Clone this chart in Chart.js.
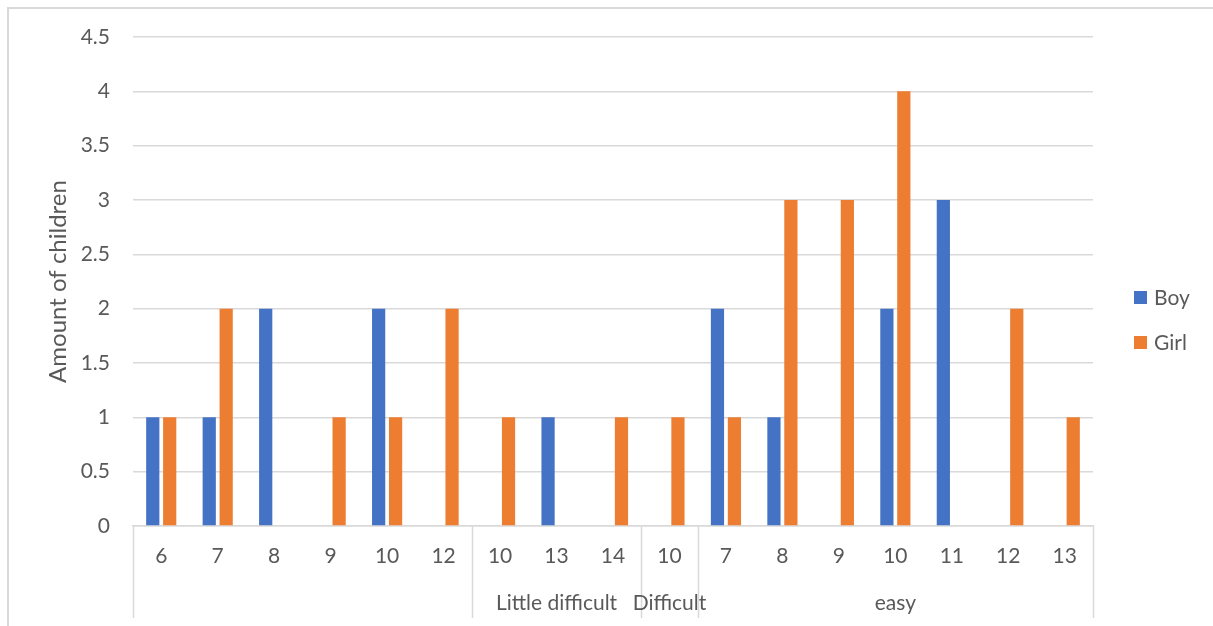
<!DOCTYPE html>
<html>
<head>
<meta charset="utf-8">
<script src="https://cdn.jsdelivr.net/npm/chart.js@4.4.1/dist/chart.umd.min.js"></script>
<style>
  html, body { margin: 0; padding: 0; background: #fff; }
  #wrap { position: relative; width: 1213px; height: 626px; overflow: hidden; }
  #frame { position: absolute; left: 7px; top: 7px; width: 1220px; height: 640px;
           border-top: 2px solid #d9d9d9; border-left: 2px solid #d9d9d9; box-sizing: border-box; }
  canvas { position: absolute; left: 0; top: 0; }
</style>
</head>
<body>
<div id="wrap">
  <div id="frame"></div>
  <canvas id="c" width="1213" height="626"></canvas>
</div>
<script>
// Ages within each difficulty group
const ageLabels = ['6', '7', '8', '9', '10', '12', '10', '13', '14', '10', '7', '8', '9', '10', '11', '12', '13'];
// Difficulty groups and how many ages each one spans
const groupNames = ['', 'Little difficult', 'Difficult', 'easy'];
const groupSizes = [6, 3, 1, 7];
// Number of children per age
const boyValues  = [1, 1, 2, 0, 2, 0, 0, 1, 0, 0, 2, 1, 0, 2, 3, 0, 0];
const girlValues = [1, 2, 0, 1, 1, 2, 1, 0, 1, 1, 1, 3, 3, 4, 0, 2, 1];
const yTicks = [0, 0.5, 1, 1.5, 2, 2.5, 3, 3.5, 4, 4.5];

const FONT = 'Lato, "Open Sans", sans-serif';
const TEXT = '#595959';
const GRID = '#d9d9d9';
const LABEL_SIZE = 21;

// Second row of category labels: group names with separator lines
const groupAxis = {
  id: 'groupAxis',
  afterDraw(chart) {
    const x = chart.scales.x;
    const ctx = chart.ctx;
    const half = (x.getPixelForValue(1) - x.getPixelForValue(0)) / 2;
    const top = x.top;
    const bottom = 618;
    ctx.save();
    ctx.strokeStyle = GRID;
    ctx.lineWidth = 1.5;
    let start = 0;
    const edges = [x.getPixelForValue(0) - half];
    groupSizes.forEach(n => {
      const end = start + n - 1;
      edges.push(x.getPixelForValue(end) + half);
      start += n;
    });
    edges.forEach(px => {
      ctx.beginPath();
      ctx.moveTo(Math.round(px) + 0.5, top);
      ctx.lineTo(Math.round(px) + 0.5, bottom);
      ctx.stroke();
    });
    ctx.fillStyle = TEXT;
    ctx.font = LABEL_SIZE + 'px ' + FONT;
    ctx.textAlign = 'center';
    ctx.textBaseline = 'middle';
    groupNames.forEach((name, i) => {
      if (!name) return;
      ctx.fillText(name, (edges[i] + edges[i + 1]) / 2, 603);
    });
    ctx.restore();
  }
};

// Legend at the right of the plot
const sideLegend = {
  id: 'sideLegend',
  afterDraw(chart) {
    const ctx = chart.ctx;
    ctx.save();
    ctx.font = LABEL_SIZE + 'px ' + FONT;
    ctx.textBaseline = 'middle';
    ctx.textAlign = 'left';
    chart.data.datasets.forEach((ds, i) => {
      const cy = 298 + i * 45;
      ctx.fillStyle = ds.backgroundColor;
      ctx.fillRect(1134, cy - 7, 13, 13);
      ctx.fillStyle = TEXT;
      ctx.fillText(ds.label, 1154, cy);
    });
    ctx.restore();
  }
};

new Chart(document.getElementById('c'), {
  type: 'bar',
  data: {
    labels: ageLabels,
    datasets: [
      { label: 'Boy', data: boyValues, backgroundColor: '#4472c4' },
      { label: 'Girl', data: girlValues, backgroundColor: '#ed7d31' }
    ]
  },
  options: {
    responsive: false,
    animation: false,
    devicePixelRatio: 1,
    layout: { padding: { left: 0, top: 37, right: 120, bottom: 0 } },
    datasets: { bar: { categoryPercentage: 0.6, barPercentage: 0.78 } },
    plugins: { legend: { display: false }, tooltip: { enabled: false } },
    scales: {
      x: {
        grid: { display: false, drawTicks: false },
        border: { color: GRID, width: 1.5 },
        ticks: { color: TEXT, font: { family: FONT, size: LABEL_SIZE }, padding: 18, maxRotation: 0, autoSkip: false },
        afterFit(scale) { scale.height = 100; }
      },
      y: {
        min: 0, max: 4.5,
        afterBuildTicks(scale) { scale.ticks = yTicks.map(v => ({ value: v })); },
        grid: { color: GRID, lineWidth: 1.5, drawTicks: false },
        border: { display: false },
        ticks: { color: TEXT, font: { family: FONT, size: LABEL_SIZE }, padding: 23,
                 callback: v => String(v) },
        title: { display: true, text: 'Amount of children', color: TEXT,
                 font: { family: FONT, size: 24 }, padding: { top: 44, bottom: 0 } },
        afterFit(scale) { scale.width = 133; }
      }
    }
  },
  plugins: [groupAxis, sideLegend]
});
</script>
</body>
</html>
